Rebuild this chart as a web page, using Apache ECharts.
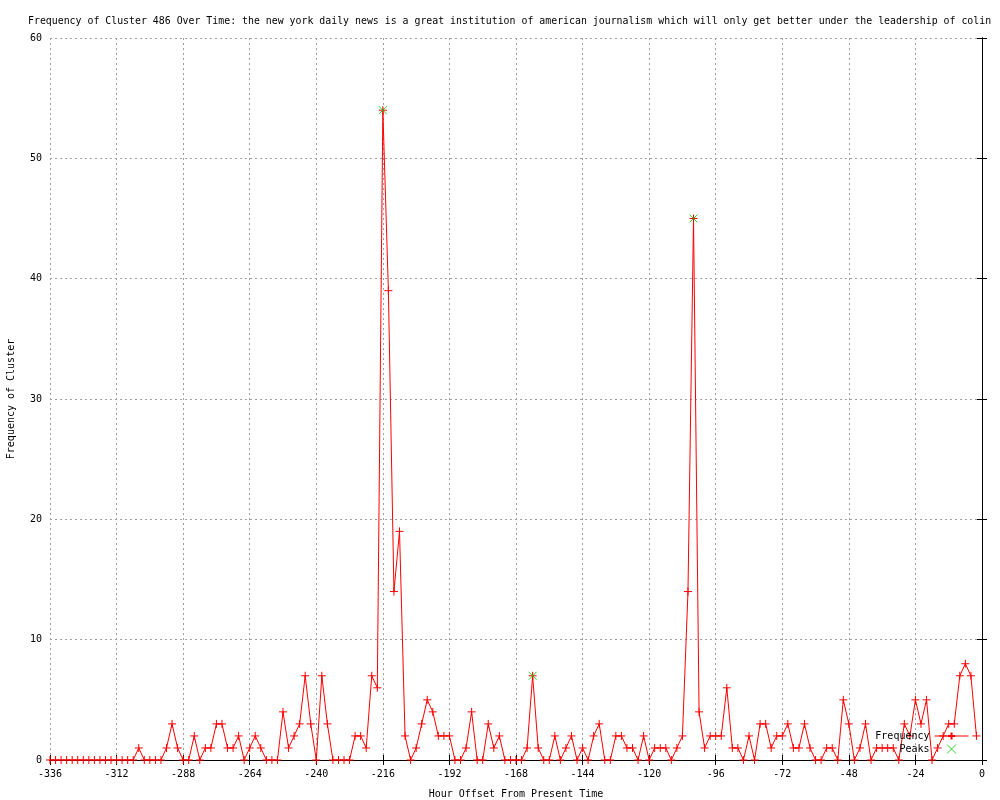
<!DOCTYPE html>
<html>
<head>
<meta charset="utf-8">
<script src="https://cdn.jsdelivr.net/npm/echarts@6/dist/echarts.min.js"></script>
<style>
html,body{margin:0;padding:0;background:#fff;}
#chart{width:1000px;height:800px;}
</style>
</head>
<body>
<div id="chart"></div>
<script>
// Hours run from -336 to -2 in steps of 2
const startHour = -336;
const stepHours = 2;
const frequency = [
  0,0,0,0,0,0,0,0,0,0,0,0, 0,0,0,0,1,0,0,0,
  0,1,3,1,0,0,2,0,1,1, 3,3,1,1,2,0,1,2,1,0,
  0,0,4,1,2,3,7,3,0,7, 3,0,0,0,0,2,2,1,7,6,
  54,39,14,19,2,0,1,3,5,4, 2,2,2,0,0,1,4,0,0,3,
  1,2,0,0,0,0,1,7,1,0, 0,2,0,1,2,0,1,0,2,3,
  0,0,2,2,1,1,0,2,0,1, 1,1,0,1,2,14,45,4,1,2,
  2,2,6,1,1,0,2,0,3,3, 1,2,2,3,1,1,3,1,0,0,
  1,1,0,5,3,0,1,3,0,1, 1,1,1,0,3,2,5,3,5,0,
  1,2,3,3,7,8,7,2
];
const peakHours = [-216, -162, -104];
const peakValues = [54, 7, 45];
const xTicks = [-336,-312,-288,-264,-240,-216,-192,-168,-144,-120,-96,-72,-48,-24,0];
const yTicks = [0,10,20,30,40,50,60];

const titleText = 'Frequency of Cluster 486 Over Time: the new york daily news is a great institution of american journalism which will only get better under the leadership of colin';

const hours = frequency.map((_, i) => startHour + i * stepHours);
const freqData = hours.map((h, i) => [h, frequency[i]]);
const peakData = peakHours.map((h, i) => [h, peakValues[i]]);

const FONT = 'DejaVu Sans Mono';
const plusPath = 'path://M4,0L4,8M0,4L8,4';
const xPath = 'path://M0,0L8,8M8,0L0,8';

const chart = echarts.init(document.getElementById('chart'), null, {renderer: 'canvas'});
chart.setOption({
  animation: false,
  backgroundColor: '#ffffff',
  title: {
    text: titleText,
    left: 23, top: 11,
    textStyle: {fontFamily: FONT, fontSize: 9.9, fontWeight: 'normal', color: '#000'}
  },
  grid: {left: 50, right: 18, top: 38, bottom: 40, containLabel: false, outerBoundsMode: 'none'},
  legend: {
    orient: 'vertical',
    right: 26, top: 726,
    align: 'right',
    itemWidth: 34, itemHeight: 9, itemGap: 3,
    lineStyle: {width: 1},
    textStyle: {fontFamily: FONT, fontSize: 10, color: '#000', width: 60, align: 'right'},
    data: [{name: 'Frequency'}, {name: 'Peaks', itemStyle: {borderWidth: 1}}]
  },
  xAxis: [{
    type: 'value', min: -336, max: 0, interval: 24,
    name: 'Hour Offset From Present Time', nameLocation: 'middle', nameGap: 29,
    nameTextStyle: {fontFamily: FONT, fontSize: 10, color: '#000'},
    axisLine: {show: true, lineStyle: {color: '#000', width: 1}},
    axisTick: {show: true, inside: true, length: 5, lineStyle: {color: '#000'}},
    axisLabel: {fontFamily: FONT, fontSize: 10, color: '#000', margin: 9,
      formatter: v => xTicks.indexOf(v) >= 0 ? String(v) : ''},
    splitLine: {show: true, lineStyle: {color: '#a0a0a0', type: [2, 3], width: 1}}
  }, {
    type: 'value', position: 'top', min: -336, max: 0, interval: 24,
    axisLine: {show: true, lineStyle: {color: '#000', width: 1}},
    axisTick: {show: true, inside: true, length: 5, lineStyle: {color: '#000'}},
    axisLabel: {show: false}, splitLine: {show: false}
  }],
  yAxis: [{
    type: 'value', min: 0, max: 60, interval: 10,
    name: 'Frequency of Cluster', nameLocation: 'middle', nameGap: 34,
    nameTextStyle: {fontFamily: FONT, fontSize: 10, color: '#000'},
    axisLine: {show: true, lineStyle: {color: '#000', width: 1}},
    axisTick: {show: true, inside: true, length: 5, lineStyle: {color: '#000'}},
    axisLabel: {fontFamily: FONT, fontSize: 10, color: '#000', margin: 8,
      formatter: v => yTicks.indexOf(v) >= 0 ? String(v) : ''},
    splitLine: {show: true, lineStyle: {color: '#a0a0a0', type: [2, 3], width: 1}}
  }, {
    type: 'value', position: 'right', min: 0, max: 60, interval: 10,
    axisLine: {show: true, lineStyle: {color: '#000', width: 1}},
    axisTick: {show: true, inside: true, length: 5, lineStyle: {color: '#000'}},
    axisLabel: {show: false}, splitLine: {show: false}
  }],
  series: [{
    name: 'Frequency',
    type: 'line',
    data: freqData,
    showAllSymbol: true,
    symbol: plusPath,
    symbolSize: 8,
    lineStyle: {color: '#ff0000', width: 1},
    itemStyle: {color: '#ff0000', borderColor: '#ff0000', borderWidth: 1},
    z: 3
  }, {
    name: 'Peaks',
    type: 'scatter',
    data: peakData,
    symbol: xPath,
    symbolSize: 8,
    itemStyle: {color: '#00c800', borderColor: '#00c800', borderWidth: 1},
    z: 10
  }]
});
</script>
</body>
</html>
